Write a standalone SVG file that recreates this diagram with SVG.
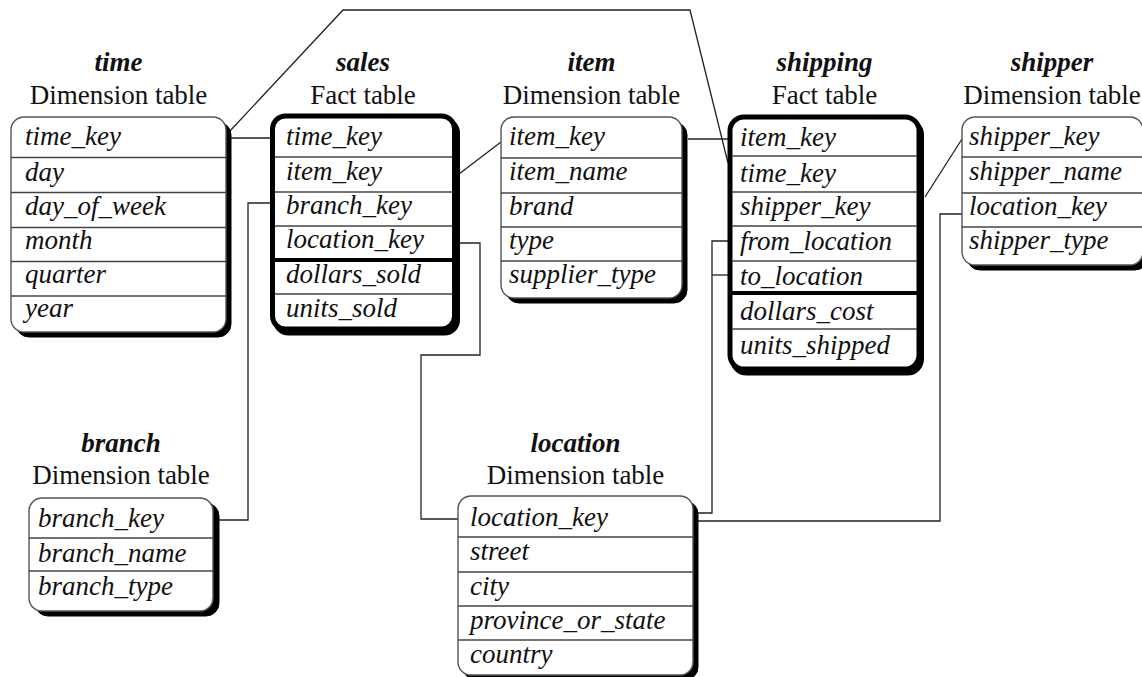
<svg xmlns="http://www.w3.org/2000/svg" width="1142" height="677" viewBox="0 0 1142 677">
  <style>
    text { font-family: "Liberation Serif", "Times New Roman", serif; font-size: 27px; fill: #111; }
    .title { font-weight: bold; font-style: italic; text-anchor: middle; }
    .sub { text-anchor: middle; }
    .field { font-style: italic; }
    .shadow { fill: #000; stroke: #000; stroke-width: 1; }
    .dim { fill: #fff; stroke: #555; stroke-width: 1.4; }
    .fact { fill: #fff; stroke: #000; stroke-width: 5; }
    .factshadow { fill: #000; stroke: #000; stroke-width: 5; }
    .sep { stroke: #444; stroke-width: 1.5; }
    .thick { stroke: #000; stroke-width: 4; }
    .conn { fill: none; stroke: #222; stroke-width: 1.3; }
  </style>

  <!-- connectors between key columns -->
  <g id="connectors">
    <line class="conn" x1="230" y1="138" x2="270" y2="138"/>
    <polyline class="conn" points="229,132 343,10 690,10 728,163"/>
    <line class="conn" x1="459" y1="174" x2="501" y2="142"/>
    <polyline class="conn" points="270,203 248,203 248,520 219,520"/>
    <polyline class="conn" points="459,243 480,243 480,355 421,355 421,519 458,519"/>
    <line class="conn" x1="688" y1="139" x2="728" y2="139"/>
    <line class="conn" x1="925" y1="197" x2="962" y2="139"/>
    <polyline class="conn" points="728,241 712,241 712,513 698,513"/>
    <line class="conn" x1="712" y1="275" x2="728" y2="275"/>
    <polyline class="conn" points="962,214 940,214 940,521 698,521"/>
  </g>

  <!-- time dimension -->
  <g id="time">
    <text class="title" x="118.5" y="71">time</text>
    <text class="sub" x="118.5" y="104">Dimension table</text>
    <rect class="shadow" x="16" y="122" width="215" height="215" rx="13"/>
    <rect class="dim" x="11" y="117" width="215" height="215" rx="13"/>
    <line class="sep" x1="11" y1="157.5" x2="226" y2="157.5"/>
    <line class="sep" x1="11" y1="192.5" x2="226" y2="192.5"/>
    <line class="sep" x1="11" y1="227.5" x2="226" y2="227.5"/>
    <line class="sep" x1="11" y1="261.5" x2="226" y2="261.5"/>
    <line class="sep" x1="11" y1="296" x2="226" y2="296"/>
    <text class="field" x="25" y="145">time_key</text>
    <text class="field" x="25" y="181">day</text>
    <text class="field" x="25" y="215">day_of_week</text>
    <text class="field" x="25" y="249">month</text>
    <text class="field" x="25" y="283">quarter</text>
    <text class="field" x="25" y="317">year</text>
  </g>

  <!-- sales fact -->
  <g id="sales">
    <text class="title" x="363" y="71">sales</text>
    <text class="sub" x="363" y="104">Fact table</text>
    <rect class="factshadow" x="275.5" y="120" width="182" height="213" rx="13"/>
    <rect class="fact" x="272.5" y="116" width="182" height="213" rx="13"/>
    <line class="sep" x1="275" y1="157" x2="452" y2="157"/>
    <line class="sep" x1="275" y1="192" x2="452" y2="192"/>
    <line class="sep" x1="275" y1="226" x2="452" y2="226"/>
    <line class="thick" x1="275" y1="260" x2="452" y2="260"/>
    <line class="sep" x1="275" y1="294" x2="452" y2="294"/>
    <text class="field" x="286" y="145">time_key</text>
    <text class="field" x="286" y="180">item_key</text>
    <text class="field" x="286" y="214">branch_key</text>
    <text class="field" x="286" y="248">location_key</text>
    <text class="field" x="286" y="283">dollars_sold</text>
    <text class="field" x="286" y="317">units_sold</text>
  </g>

  <!-- item dimension -->
  <g id="item">
    <text class="title" x="591.5" y="71">item</text>
    <text class="sub" x="591.5" y="104">Dimension table</text>
    <rect class="shadow" x="506" y="122" width="181" height="181" rx="13"/>
    <rect class="dim" x="501" y="117" width="181" height="181" rx="13"/>
    <line class="sep" x1="501" y1="158" x2="682" y2="158"/>
    <line class="sep" x1="501" y1="193" x2="682" y2="193"/>
    <line class="sep" x1="501" y1="227" x2="682" y2="227"/>
    <line class="sep" x1="501" y1="261" x2="682" y2="261"/>
    <text class="field" x="509" y="145">item_key</text>
    <text class="field" x="509" y="180">item_name</text>
    <text class="field" x="509" y="215">brand</text>
    <text class="field" x="509" y="249">type</text>
    <text class="field" x="509" y="283">supplier_type</text>
  </g>

  <!-- shipping fact -->
  <g id="shipping">
    <text class="title" x="824.5" y="71">shipping</text>
    <text class="sub" x="824.5" y="104">Fact table</text>
    <rect class="factshadow" x="732.5" y="121" width="189" height="252" rx="14"/>
    <rect class="fact" x="730" y="117" width="189" height="252" rx="14"/>
    <line class="sep" x1="732" y1="156" x2="917" y2="156"/>
    <line class="sep" x1="732" y1="192" x2="917" y2="192"/>
    <line class="sep" x1="732" y1="226" x2="917" y2="226"/>
    <line class="sep" x1="732" y1="261" x2="917" y2="261"/>
    <line class="thick" x1="732" y1="293" x2="917" y2="293"/>
    <line class="sep" x1="732" y1="329" x2="917" y2="329"/>
    <text class="field" x="740" y="146">item_key</text>
    <text class="field" x="740" y="182">time_key</text>
    <text class="field" x="740" y="215">shipper_key</text>
    <text class="field" x="740" y="250">from_location</text>
    <text class="field" x="740" y="285">to_location</text>
    <text class="field" x="740" y="320">dollars_cost</text>
    <text class="field" x="740" y="354">units_shipped</text>
  </g>

  <!-- shipper dimension -->
  <g id="shipper">
    <text class="title" x="1052" y="71">shipper</text>
    <text class="sub" x="1052" y="104">Dimension table</text>
    <rect class="shadow" x="967" y="122" width="181" height="148" rx="13"/>
    <rect class="dim" x="962" y="117" width="181" height="148" rx="13"/>
    <line class="sep" x1="962" y1="157" x2="1143" y2="157"/>
    <line class="sep" x1="962" y1="193" x2="1143" y2="193"/>
    <line class="sep" x1="962" y1="227" x2="1143" y2="227"/>
    <text class="field" x="969" y="145">shipper_key</text>
    <text class="field" x="969" y="180">shipper_name</text>
    <text class="field" x="969" y="215">location_key</text>
    <text class="field" x="969" y="249">shipper_type</text>
  </g>

  <!-- branch dimension -->
  <g id="branch">
    <text class="title" x="121" y="452">branch</text>
    <text class="sub" x="121" y="484">Dimension table</text>
    <rect class="shadow" x="35" y="503" width="184" height="113" rx="13"/>
    <rect class="dim" x="29" y="498" width="184" height="113" rx="13"/>
    <line class="sep" x1="29" y1="538" x2="213" y2="538"/>
    <line class="sep" x1="29" y1="571" x2="213" y2="571"/>
    <text class="field" x="38" y="527">branch_key</text>
    <text class="field" x="38" y="562">branch_name</text>
    <text class="field" x="38" y="595">branch_type</text>
  </g>

  <!-- location dimension -->
  <g id="location">
    <text class="title" x="575.5" y="452">location</text>
    <text class="sub" x="575.5" y="484">Dimension table</text>
    <rect class="shadow" x="463" y="501" width="235" height="179" rx="13"/>
    <rect class="dim" x="458" y="496" width="235" height="179" rx="13"/>
    <line class="sep" x1="458" y1="537" x2="693" y2="537"/>
    <line class="sep" x1="458" y1="572" x2="693" y2="572"/>
    <line class="sep" x1="458" y1="606" x2="693" y2="606"/>
    <line class="sep" x1="458" y1="640" x2="693" y2="640"/>
    <text class="field" x="470" y="526">location_key</text>
    <text class="field" x="470" y="560">street</text>
    <text class="field" x="470" y="595">city</text>
    <text class="field" x="470" y="629">province_or_state</text>
    <text class="field" x="470" y="663">country</text>
  </g>
</svg>
